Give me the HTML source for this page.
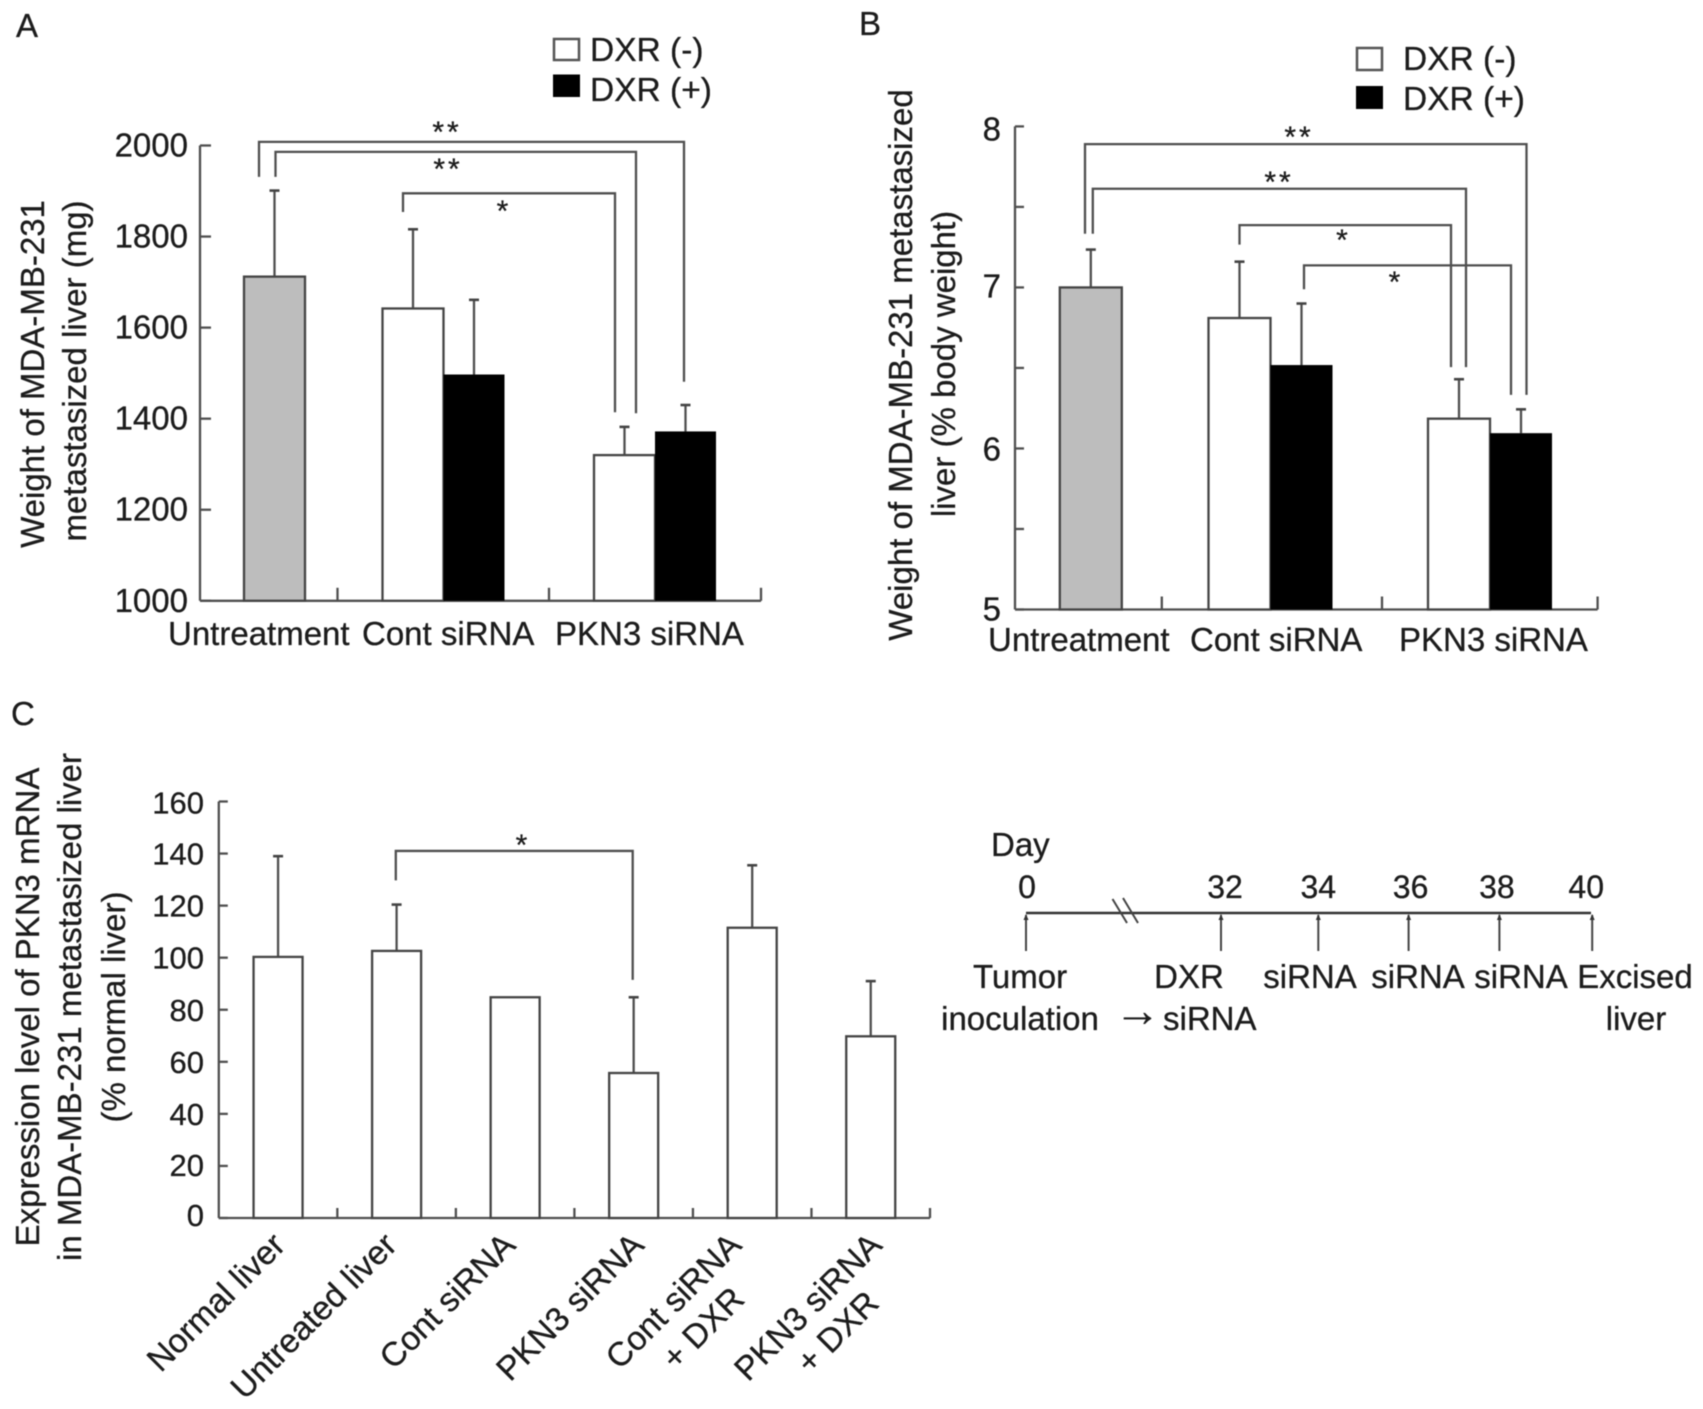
<!DOCTYPE html>
<html lang="en">
<head>
<meta charset="utf-8">
<title>PKN3 siRNA liver metastasis figure</title>
<style>
html,body{margin:0;padding:0;background:#fff;width:1703px;height:1409px;overflow:hidden}
svg{display:block;filter:blur(0.6px)}
text{font-family:"Liberation Sans",sans-serif;font-size:33px;fill:#1c1c1c;stroke:#1c1c1c;stroke-width:0.3px}
</style>
</head>
<body>
<svg id="figure" xmlns="http://www.w3.org/2000/svg" width="1703" height="1409" viewBox="0 0 1703 1409">
  <rect width="1703" height="1409" fill="#fff"/>

  <g id="panel-a">
    <text x="16" y="37">A</text>
    <g>
      <text transform="translate(44,374) rotate(-90)" text-anchor="middle">Weight of MDA-MB-231</text>
      <text transform="translate(86,371) rotate(-90)" text-anchor="middle">metastasized liver (mg)</text>
    </g>
    <g>
      <rect x="554" y="39" width="25" height="21" fill="#fff" stroke="#555" stroke-width="2.5"/>
      <text x="590" y="61" style="font-size:33.5px">DXR (-)</text>
      <rect x="553" y="74.5" width="27" height="22.5" fill="#000"/>
      <text x="590" y="101" style="font-size:33.5px">DXR (+)</text>
    </g>
  </g>

  <g id="panel-b">
    <text x="859" y="35">B</text>
    <g>
      <text transform="translate(912,365) rotate(-90)" text-anchor="middle">Weight of MDA-MB-231 metastasized</text>
      <text transform="translate(955,364) rotate(-90)" text-anchor="middle">liver (% body weight)</text>
    </g>
    <g>
      <rect x="1357" y="48" width="25" height="22" fill="#fff" stroke="#555" stroke-width="2.5"/>
      <text x="1403" y="70" style="font-size:33.5px">DXR (-)</text>
      <rect x="1356" y="86" width="27" height="23" fill="#000"/>
      <text x="1403" y="110" style="font-size:33.5px">DXR (+)</text>
    </g>
  </g>

  <g id="panel-c">
    <text x="11" y="725">C</text>
    <g>
      <text transform="translate(39,1007) rotate(-90)" text-anchor="middle">Expression level of PKN3 mRNA</text>
      <text transform="translate(81,1007) rotate(-90)" text-anchor="middle">in MDA-MB-231 metastasized liver</text>
      <text transform="translate(125,1007) rotate(-90)" text-anchor="middle">(% normal liver)</text>
    </g>
  </g>

  <g id="timeline">
    <text x="991" y="856">Day</text>
    <line x1="1026" y1="913" x2="1591" y2="913" stroke="#333" stroke-width="2.6"/>
    <g stroke="#444" stroke-width="2">
      <line x1="1112.5" y1="899" x2="1127" y2="923"/>
      <line x1="1123" y1="898" x2="1138" y2="923"/>
    </g>
    <g>
      <g text-anchor="middle">
        <text x="1020" y="988">Tumor</text>
        <text x="1020" y="1030">inoculation</text>
        <text x="1189" y="988">DXR</text>
        <text x="1310" y="988">siRNA</text>
        <text x="1418" y="988">siRNA</text>
        <text x="1521" y="988">siRNA</text>
        <text x="1635" y="988">Excised</text>
        <text x="1636" y="1030">liver</text>
      </g>
      <text x="1114.5" y="1026" style="font-size:46px">→</text>
      <text x="1163" y="1030">siRNA</text>
    </g>
  </g>
</svg>

<script>
// Panel A data: liver weight (mg)
const panelACategories = ['Untreatment', 'Cont siRNA', 'PKN3 siRNA'];
const panelATicks = [1000, 1200, 1400, 1600, 1800, 2000];
const panelABarGroups = [0, 1, 1, 2, 2];
const panelABarSeries = ['untreated', 'minus', 'plus', 'minus', 'plus'];
const panelAMeans = [1712, 1642, 1497, 1320, 1372];
const panelAErrorTops = [1901, 1816, 1661, 1382, 1430];

// Panel B data: liver weight (% body weight)
const panelBCategories = ['Untreatment', 'Cont siRNA', 'PKN3 siRNA'];
const panelBTicks = [5, 5.5, 6, 6.5, 7, 7.5, 8];
const panelBBarGroups = [0, 1, 1, 2, 2];
const panelBBarSeries = ['untreated', 'minus', 'plus', 'minus', 'plus'];
const panelBMeans = [7.0, 6.81, 6.518, 6.185, 6.095];
const panelBErrorTops = [7.235, 7.16, 6.9, 6.43, 6.243];

// Panel C data: PKN3 mRNA expression (% normal liver)
const panelCCategories = [['Normal liver'], ['Untreated liver'], ['Cont siRNA'], ['PKN3 siRNA'], ['Cont siRNA', '+ DXR'], ['PKN3 siRNA', '+ DXR']];
const panelCTicks = [0, 20, 40, 60, 80, 100, 120, 140, 160];
const panelCMeans = [100.3, 102.6, 84.8, 55.7, 111.5, 69.8];
const panelCErrorTops = [139, 120.4, null, 84.8, 135.5, 91];

// Timeline data
const timelineDays = [0, 32, 34, 36, 38, 40];

const SVG_NS = 'http://www.w3.org/2000/svg';
const AXIS_COLOR = '#4f4f4f';
const LINE_W = 2.3;

function make(tag, parent, attrs, content) {
  const node = document.createElementNS(SVG_NS, tag);
  for (const key in attrs) node.setAttribute(key, attrs[key]);
  if (content !== undefined) node.textContent = content;
  parent.appendChild(node);
  return node;
}
function slug(s) {
  return String(s).toLowerCase().replace(/[^a-z0-9.]+/g, '-').replace(/-+$/, '');
}
function linearY(ax, v) {
  return ax.yBase - (v - ax.vMin) / (ax.vMax - ax.vMin) * (ax.yBase - ax.yTop);
}

function drawAxes(parent, ax, ticks, labelFilter, categoryTickXs, tickLen) {
  const axisGroup = make('g', parent, {});
  
  
  const yLine = make('line', axisGroup, {x1: ax.x0, x2: ax.x0, y1: ax.yTop, y2: ax.yBase, stroke: AXIS_COLOR, 'stroke-width': LINE_W});
  
  
  const xLine = make('line', axisGroup, {x1: ax.x0, x2: ax.right, y1: ax.yBase, y2: ax.yBase, stroke: AXIS_COLOR, 'stroke-width': LINE_W});
  
  
  ticks.forEach(function (t) {
    const y = linearY(ax, t);
    const tick = make('line', axisGroup, {x1: ax.x0, x2: ax.x0 + ax.yTickLen, y1: y, y2: y, stroke: AXIS_COLOR, 'stroke-width': LINE_W});
    
    
    if (labelFilter(t)) {
      const nudge = ax.labelNudge ? ax.labelNudge(t) : 0;
      const label = make('text', axisGroup, {x: ax.labelRight, y: y + 11 + nudge, 'text-anchor': 'end', style: 'font-size:' + ax.tickFont + 'px'}, String(t));
      
      
    }
  });
  categoryTickXs.forEach(function (x, i) {
    const tick = make('line', axisGroup, {x1: x, x2: x, y1: ax.yBase - tickLen, y2: ax.yBase, stroke: AXIS_COLOR, 'stroke-width': LINE_W});
    
    
  });
}

function drawBar(parent, ax, left, width, value, fill, name) {
  const y = linearY(ax, value);
  const isBlack = fill === '#000';
  const bar = make('rect', parent, {x: left, y: y, width: width, height: ax.yBase - y, fill: fill, stroke: isBlack ? 'none' : '#444', 'stroke-width': LINE_W});
  
  
}
function drawError(parent, ax, x, from, to, name) {
  const y1 = linearY(ax, from);
  const y2 = linearY(ax, to);
  const stem = make('line', parent, {x1: x, x2: x, y1: y1, y2: y2, stroke: AXIS_COLOR, 'stroke-width': LINE_W});
  
  
  const cap = make('line', parent, {x1: x - 5, x2: x + 5, y1: y2, y2: y2, stroke: '#444', 'stroke-width': 2.6});
  
  
}
function drawBracket(parent, ax, xL, xR, topV, footLV, footRV, stars, starX, starY, name) {
  const path = make('path', parent, {
    d: 'M' + xL + ' ' + linearY(ax, footLV) + 'V' + linearY(ax, topV) + 'H' + xR + 'V' + linearY(ax, footRV),
    fill: 'none', stroke: AXIS_COLOR, 'stroke-width': LINE_W
  });
  
  
  const mark = make('text', parent, {x: starX, y: starY + 15, 'text-anchor': 'middle', style: 'font-size:30px;letter-spacing:3px'}, stars);
  
  
}

function drawGroupedPanel(root, ax, categories, ticks, groups, series, means, errors, layout) {
  const labelFilter = function (t) { return layout.labelEvery ? Number.isInteger(t) : true; };
  const center = function (g) { return layout.origin + layout.step * g + (g === 0 ? layout.firstNudge : 0); };
  drawAxes(root, ax, ticks, labelFilter, layout.catTicks, 13);
  categories.forEach(function (c, i) {
    const label = make('text', root, {x: layout.catLabelX(i), y: layout.catBaseline}, c);
    
    
  });
  means.forEach(function (m, i) {
    const c = center(groups[i]);
    const kind = series[i];
    const w = layout.barWidth;
    const left = kind === 'untreated' ? c - w / 2 : (kind === 'minus' ? c - w : c);
    const fill = kind === 'untreated' ? '#bdbdbd' : (kind === 'minus' ? '#fff' : '#000');
    const nm = ax.name + '-' + slug(categories[groups[i]]) + '-' + kind;
    drawError(root, ax, left + w / 2, m, errors[i], nm + '-error-bar');
    drawBar(root, ax, left, w, m, fill, nm + '-bar');
  });
}

// Panel A
(function () {
  const root = document.getElementById('panel-a');
  const ax = {name: 'panel-a', x0: 200, right: 761, yTop: 145.5, yBase: 600.8, vMin: 1000, vMax: 2000, yTickLen: 11, labelRight: 188, tickFont: 33};
  drawGroupedPanel(root, ax, panelACategories, panelATicks, panelABarGroups, panelABarSeries, panelAMeans, panelAErrorTops, {
    origin: 232, step: 211.5, firstNudge: 42.5, barWidth: 61, catTicks: [337.5, 549, 761], catBaseline: 645,
    catLabelX: function (i) { return 168 + i * 194 + (i === 2 ? -1 : 0); }
  });
  drawBracket(root, ax, 259, 684, 2008, 1931, 1481, '**', 447, 127, 'panel-a-bracket-untreated-to-pkn3-plus');
  drawBracket(root, ax, 275.5, 636, 1986, 1931, 1412, '**', 448, 164, 'panel-a-bracket-untreated-to-pkn3-minus');
  drawBracket(root, ax, 403, 615, 1895, 1854, 1414, '*', 504, 206, 'panel-a-bracket-cont-to-pkn3');
})();

// Panel B
(function () {
  const root = document.getElementById('panel-b');
  const ax = {name: 'panel-b', x0: 1015, right: 1597.6, yTop: 126.4, yBase: 609.5, vMin: 5, vMax: 8, yTickLen: 9, labelRight: 1001, tickFont: 33,
    labelNudge: function (t) { return t === 8 ? 3 : (t === 7 ? -1 : (t === 6 ? 1 : 0)); }};
  drawGroupedPanel(root, ax, panelBCategories, panelBTicks, panelBBarGroups, panelBBarSeries, panelBMeans, panelBErrorTops, {
    origin: 1051, step: 219.5, firstNudge: 39.8, barWidth: 62, catTicks: [1161.8, 1382, 1597.6], catBaseline: 651, labelEvery: true,
    catLabelX: function (i) { return 988 + i * 202 + (i === 2 ? 7 : 0); }
  });
  drawBracket(root, ax, 1085, 1526.5, 7.89, 7.333, 6.333, '**', 1299, 132, 'panel-b-bracket-untreated-to-pkn3-plus');
  drawBracket(root, ax, 1092.8, 1466, 7.613, 7.333, 6.505, '**', 1279, 177, 'panel-b-bracket-untreated-to-pkn3-minus');
  drawBracket(root, ax, 1239.5, 1451, 7.387, 7.266, 6.505, '*', 1343.5, 235, 'panel-b-bracket-cont-to-pkn3-minus');
  drawBracket(root, ax, 1304, 1511, 7.137, 6.989, 6.333, '*', 1396, 277, 'panel-b-bracket-cont-plus-to-pkn3-plus');
})();

// Panel C
(function () {
  const root = document.getElementById('panel-c');
  const ax = {name: 'panel-c', x0: 218.8, right: 930, yTop: 801.5, yBase: 1218, vMin: 0, vMax: 160, yTickLen: 9, labelRight: 204, tickFont: 31,
    labelNudge: function (t) { return t === 0 ? -3 : (t === 20 ? -1 : (t === 160 ? 1 : 0)); }};
  const slot = (ax.right - ax.x0) / panelCCategories.length;
  const center = function (i) { return ax.x0 + slot * (i + 0.5); };
  const catTicks = panelCCategories.map(function (c, i) { return ax.x0 + slot * (i + 1); });
  drawAxes(root, ax, panelCTicks, function () { return true; }, catTicks, 10);
  panelCMeans.forEach(function (m, i) {
    const c = center(i);
    const nm = 'panel-c-' + slug(panelCCategories[i].join(' '));
    if (panelCErrorTops[i] !== null) drawError(root, ax, c, m, panelCErrorTops[i], nm + '-error-bar');
    drawBar(root, ax, c - 24.5, 49, m, '#fff', nm + '-bar');
  });
  drawBracket(root, ax, 395.8, 632.7, 141, 129.7, 91.5, '*', 523, 840, 'panel-c-bracket-untreated-to-pkn3');
  const labelDx = [9, 2, 2, 12, -9, 13];
  const secondDx = [0, 0, 0, 0, 3, -3];
  const secondDy = [0, 0, 0, 0, 54, 58];
  panelCCategories.forEach(function (lines, i) {
    lines.forEach(function (line, k) {
      const ex = center(i) + labelDx[i] + (k ? secondDx[i] : 0);
      const ey = 1247 + (k ? secondDy[i] : 0);
      const label = make('text', root, {transform: 'translate(' + ex + ',' + ey + ') rotate(-45)', 'text-anchor': 'end', style: 'font-size:33.5px'}, line);
      
      
    });
  });
})();

// Timeline
(function () {
  const root = document.getElementById('timeline');
  const dayX = function (d) {
    if (d <= 0) return 1026;
    const drift = d === 34 ? 4.5 : (d === 36 ? 2 : 0);
    return 1221 + (d - 32) * 46.4 + drift;
  };
  timelineDays.forEach(function (d) {
    const x = dayX(d);
    const labelDx = d === 40 ? -6 : (d === 0 ? 1 : (d === 34 ? 0 : (d === 36 ? 2 : (d === 38 ? -2.5 : 4))));
    const label = make('text', root, {x: x + labelDx, y: 898, 'text-anchor': 'middle', style: 'font-size:32px'}, String(d));
    
    
    const stem = make('line', root, {x1: x, x2: x, y1: 951, y2: 915, stroke: '#444', 'stroke-width': 2});
    
    
    const head = make('path', root, {d: 'M' + (x - 2.5) + ' 920L' + x + ' 914L' + (x + 2.5) + ' 920Z', fill: '#333'});
    
    
  });
})();
</script>
</body>
</html>
